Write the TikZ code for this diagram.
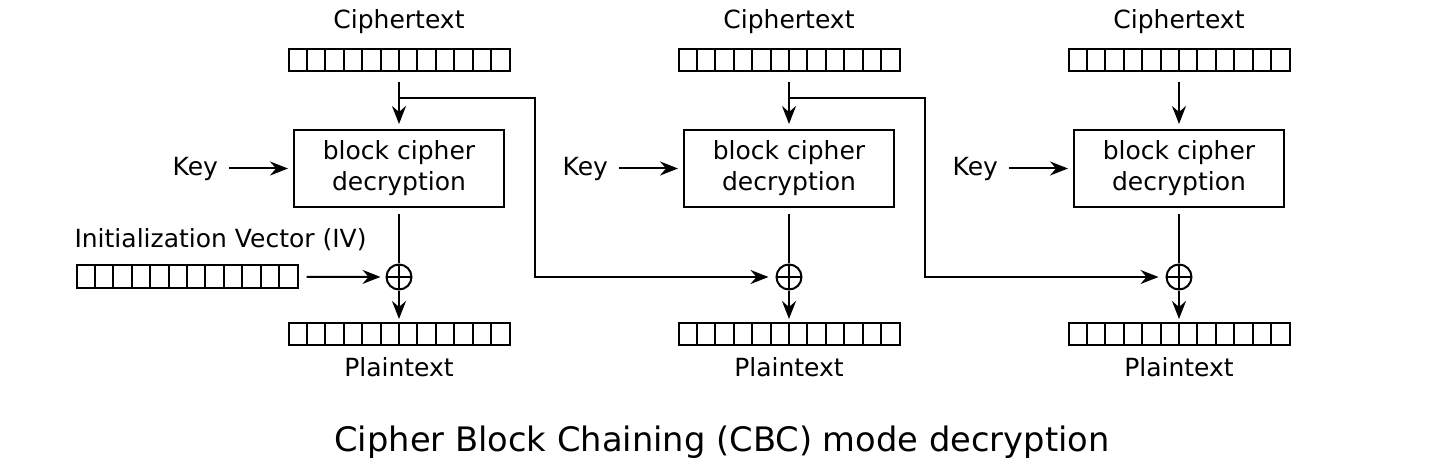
\documentclass[tikz,border=0pt]{standalone}
\usepackage{fontspec}
\setmainfont{DejaVu Sans}
\usetikzlibrary{arrows.meta,positioning}

\begin{document}
\begin{tikzpicture}[
        x=1pt, y=-1pt,
        line width=2pt,
        >={Stealth[length=18pt,width=14pt,inset=6pt]},
        every node/.style={
            inner sep=0pt,
            font=\fontsize{25}{31}\selectfont
        },
        strip/.style={
            draw,
            minimum width=221pt,
            minimum height=22pt,
            path picture={
                \foreach \i in {1,...,11}
                    \draw ([xshift=\i*18.42pt]path picture bounding box.south west)
                       -- ([xshift=\i*18.42pt]path picture bounding box.north west);
            }
        },
        cipherbox/.style={
            draw,
            minimum width=210pt,
            minimum height=77pt,
            align=center
        },
        xor/.style={
            draw,
            circle,
            minimum size=25pt,
            path picture={
                \draw (path picture bounding box.north) -- (path picture bounding box.south)
                      (path picture bounding box.west) -- (path picture bounding box.east);
            }
        },
        flow/.style={
            ->,
            shorten >=5pt
        }
    ]
        \useasboundingbox (0,0) rectangle (1450,470);

        % First block
        \node (ct1) [strip] at (399,60) {};
        \node (ct1lbl) [above=13pt of ct1] {Ciphertext};
        \node (box1) [cipherbox] at (399,168.5) {block cipher\\decryption};
        \node (key1) [left=74pt of box1] {Key};
        \node (xor1) [xor] at (399,277) {};
        \node (pt1) [strip] at (399,334) {};
        \node (pt1lbl) [below=11pt of pt1] {Plaintext};

        % Initialization vector
        \node (iv) [strip] at (187,276.5) {};
        \node (ivlbl) [above=13pt of iv.north west, anchor=south west, xshift=-2pt] {Initialization Vector (IV)};

        % Second block
        \node (ct2) [strip] at (789,60) {};
        \node (ct2lbl) [above=13pt of ct2] {Ciphertext};
        \node (box2) [cipherbox] at (789,168.5) {block cipher\\decryption};
        \node (key2) [left=74pt of box2] {Key};
        \node (xor2) [xor] at (789,277) {};
        \node (pt2) [strip] at (789,334) {};
        \node (pt2lbl) [below=11pt of pt2] {Plaintext};

        % Third block
        \node (ct3) [strip] at (1179,60) {};
        \node (ct3lbl) [above=13pt of ct3] {Ciphertext};
        \node (box3) [cipherbox] at (1179,168.5) {block cipher\\decryption};
        \node (key3) [left=74pt of box3] {Key};
        \node (xor3) [xor] at (1179,277) {};
        \node (pt3) [strip] at (1179,334) {};
        \node (pt3lbl) [below=11pt of pt3] {Plaintext};

        \node (title) at (722,442) {\fontsize{33.7}{40}\selectfont Cipher Block Chaining (CBC) mode decryption};

        % Branch points
        \coordinate (fb1) at (399,98);
        \coordinate (fb2) at (789,98);

        % Edges
        \draw[flow, shorten <=10pt] (ct1) -- (box1);
        \draw[flow, shorten <=10pt] (ct2) -- (box2);
        \draw[flow, shorten <=10pt] (ct3) -- (box3);
        \draw[flow, shorten <=10pt] (key1) -- (box1);
        \draw[flow, shorten <=10pt] (key2) -- (box2);
        \draw[flow, shorten <=10pt] (key3) -- (box3);
        \draw[shorten <=6pt] (box1) -- (xor1);
        \draw[shorten <=6pt] (box2) -- (xor2);
        \draw[shorten <=6pt] (box3) -- (xor3);
        \draw[flow, shorten >=3pt] (xor1) -- (pt1);
        \draw[flow, shorten >=3pt] (xor2) -- (pt2);
        \draw[flow, shorten >=3pt] (xor3) -- (pt3);
        \draw[flow, shorten <=8pt] (iv) -- (xor1);
        \draw[flow, shorten >=7pt] (fb1) -- ++(136,0) |- (xor2);
        \draw[flow, shorten >=7pt] (fb2) -- ++(136,0) |- (xor3);
    \end{tikzpicture}
\end{document}
